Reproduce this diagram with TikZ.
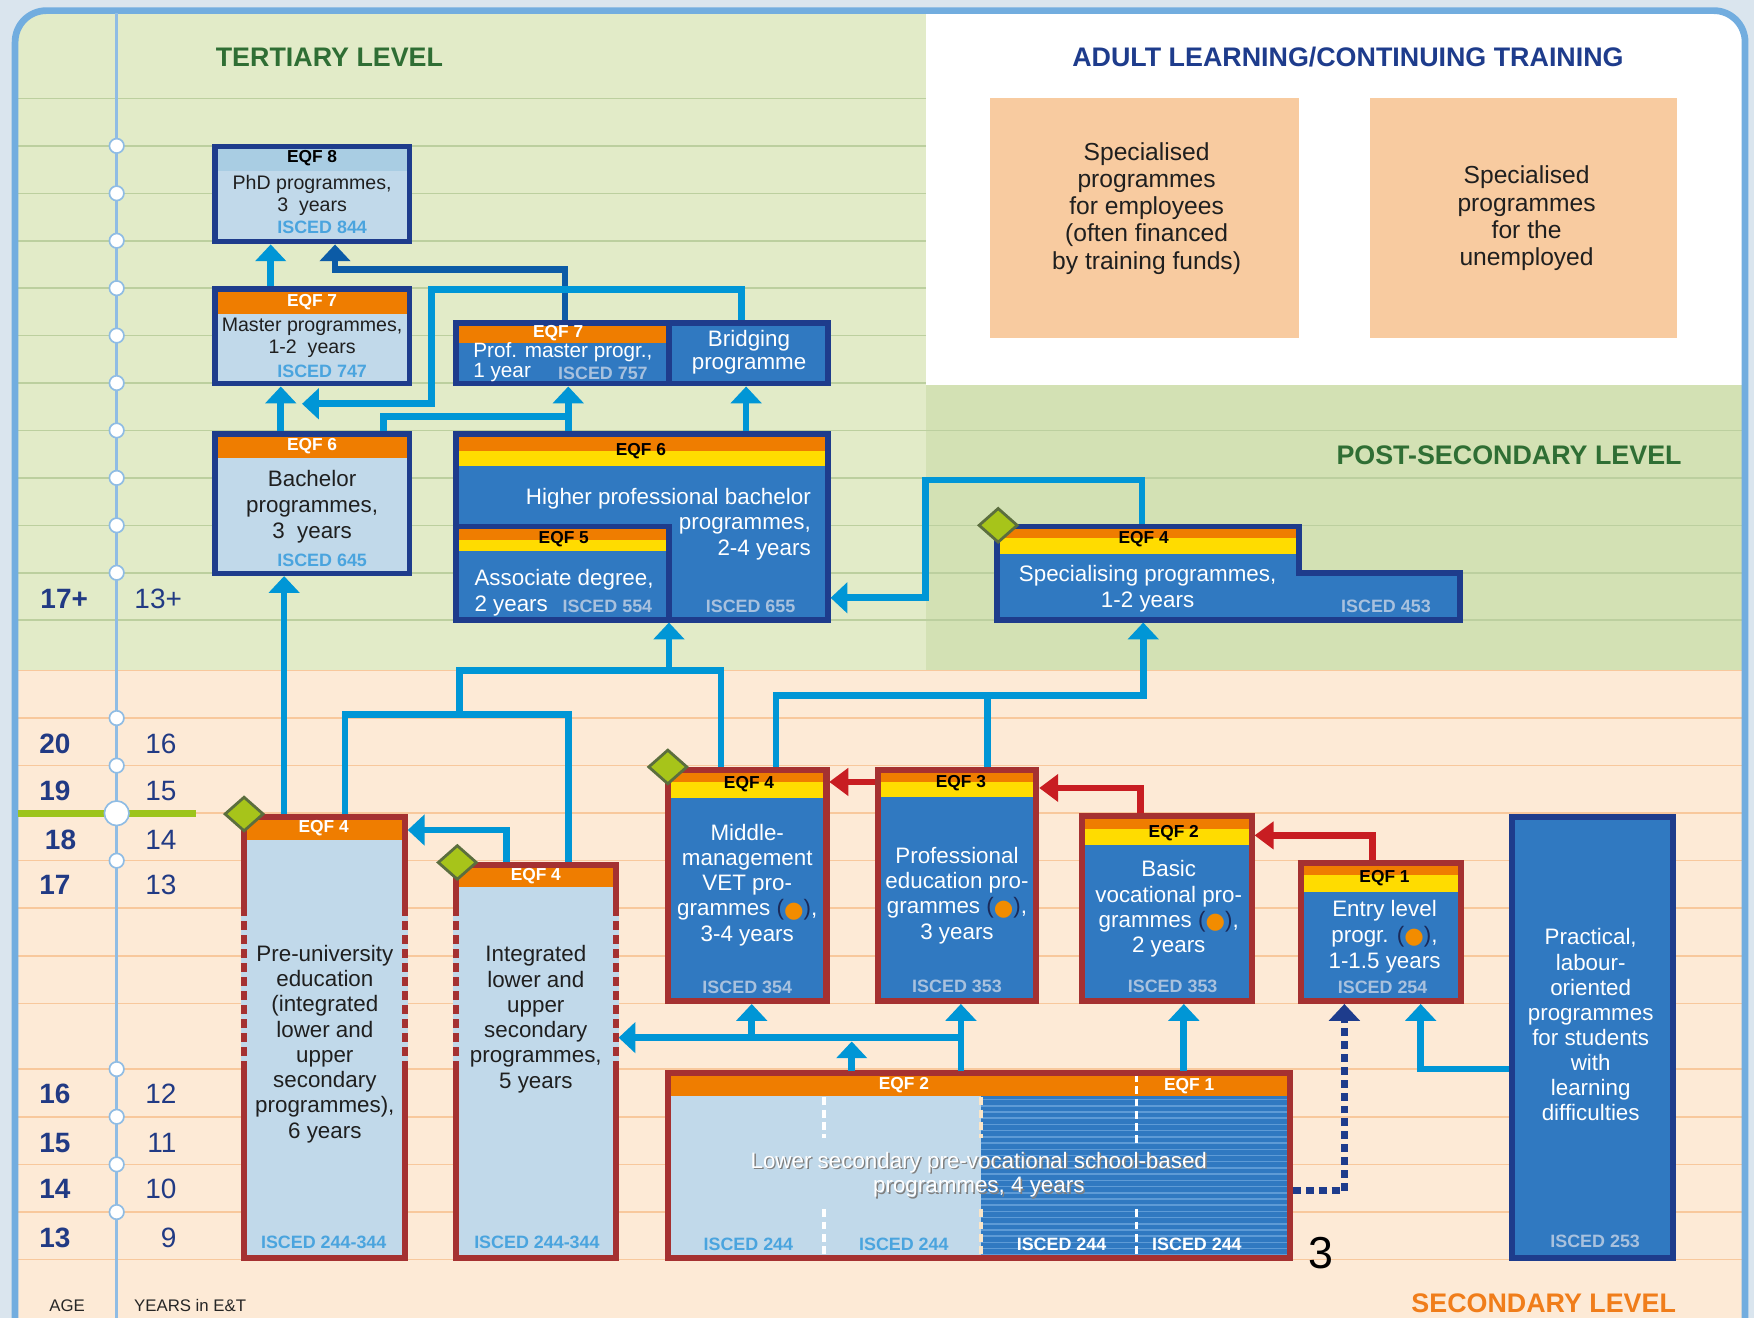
\documentclass[tikz,border=0pt]{standalone}
\usepackage{fontspec}
\usepackage{graphicx}
\setmainfont{Liberation Sans}
\newfontfamily\symfont{DejaVu Sans}
\usetikzlibrary{arrows.meta,fit,calc}

\definecolor{outerbg}{HTML}{DAE5EE}
\definecolor{framec}{HTML}{72ADDF}
\definecolor{terbg}{HTML}{E2EBC8}
\definecolor{postbg}{HTML}{D3E1B4}
\definecolor{secbg}{HTML}{FDEAD6}
\definecolor{terline}{HTML}{BCCF9F}
\definecolor{secline}{HTML}{F8C89C}
\definecolor{timec}{HTML}{8FBCE4}
\definecolor{barg}{HTML}{9DC41C}
\definecolor{navyc}{HTML}{1E3C8C}
\definecolor{agec}{HTML}{213A84}
\definecolor{redb}{HTML}{A53131}
\definecolor{orh}{HTML}{EF7D00}
\definecolor{yeh}{HTML}{FFDC00}
\definecolor{dkb}{HTML}{3079C1}
\definecolor{ltb}{HTML}{C1D9EA}
\definecolor{hdb}{HTML}{A9CDE3}
\definecolor{arrb}{HTML}{0096D6}
\definecolor{arrd}{HTML}{0C5BA6}
\definecolor{arrr}{HTML}{C81D22}
\definecolor{iscl}{HTML}{4AA4DE}
\definecolor{iscd}{HTML}{A8C1DE}
\definecolor{adultc}{HTML}{F8CBA0}
\definecolor{dgreen}{HTML}{2F6E34}
\definecolor{secor}{HTML}{F07D1A}
\definecolor{diag}{HTML}{A7C41A}
\definecolor{diab}{HTML}{5B6E3E}
\definecolor{dotor}{HTML}{F28C00}
\definecolor{odpar}{HTML}{1A2A5A}
\definecolor{stripe}{HTML}{5E9BD6}
\definecolor{cream}{HTML}{FBE6C8}

\newcommand\od{{\color{odpar}(}{\symfont\color{dotor}\raisebox{-0.05em}{\scalebox{1.0}{●}}}{\color{odpar})}}
\newcommand\mkbox[5]{\coordinate (#1-a) at (#2,#3); \coordinate (#1-b) at (#4,#5);
  \node[fit=(#1-a)(#1-b), inner sep=0pt, outer sep=2.5pt] (#1) {};}
\newcommand\dia[2]{\filldraw[fill=diag, draw=diab, line width=2.5pt] (#1-17,#2) -- (#1,#2-15) -- (#1+17,#2) -- (#1,#2+15) -- cycle;}

\tikzset{
 ar/.style={draw=arrb, line width=6pt, -{Triangle[width=27pt,length=15pt]}},
 ln/.style={draw=arrb, line width=6pt},
 ard/.style={draw=arrd, line width=6pt, -{Triangle[width=27pt,length=15pt]}},
 arn/.style={draw=navyc, line width=6pt, dash pattern=on 7pt off 4.5pt, -{Triangle[width=27pt,length=15pt]}},
 arr/.style={draw=arrr, line width=6pt, -{Triangle[width=24pt,length=17pt]}},
 nb/.style={draw=navyc, line width=5pt},
 rb/.style={draw=redb, line width=5.5pt},
 hw/.style={inner sep=0pt, font=\bfseries\fontsize{15.5}{15.5}\selectfont, text=white},
 hk/.style={inner sep=0pt, font=\bfseries\fontsize{15.5}{15.5}\selectfont, text=black},
 il/.style={inner sep=0pt, font=\bfseries\fontsize{16}{16}\selectfont, text=iscl},
 idk/.style={inner sep=0pt, font=\bfseries\fontsize{16}{16}\selectfont, text=iscd},
 iwh/.style={inner sep=0pt, font=\bfseries\fontsize{16}{16}\selectfont, text=white},
 tk/.style={inner sep=0pt, align=center, font=\fontsize{17.5}{19.6}\selectfont, text=black!88},
 tw/.style={inner sep=0pt, align=center, font=\fontsize{20}{22.6}\selectfont, text=white},
 tb/.style={inner sep=0pt, align=center, font=\fontsize{20}{22.6}\selectfont, text=black!88},
 ta/.style={inner sep=0pt, align=center, font=\fontsize{22}{24.3}\selectfont, text=black!88},
 ttl/.style={inner sep=0pt, font=\bfseries\fontsize{24}{24}\selectfont},
 agel/.style={inner sep=0pt, font=\bfseries\fontsize{25}{25}\selectfont, text=agec, anchor=west},
 ager/.style={inner sep=0pt, font=\fontsize{25}{25}\selectfont, text=agec, anchor=east},
}

\begin{document}
\begin{tikzpicture}[x=1pt,y=-1pt]
\useasboundingbox (0,0) rectangle (1568,1178);
\fill[outerbg] (0,0) rectangle (1568,1178);
% ---------- regions ----------
\begin{scope}
\clip[rounded corners=28pt] (13.5,9.5) rectangle (1560,1260);
\fill[terbg] (0,0) rectangle (828,598.5);
\fill[white] (828,0) rectangle (1568,344.5);
\fill[postbg] (828,344.5) rectangle (1568,598.5);
\fill[secbg] (0,598.5) rectangle (1568,1260);
\foreach \yy in {88,130.4,...,555} \draw[terline, line width=1.4pt] (0,\yy) -- (828,\yy);
\foreach \yy in {384.8,427.2,469.6,512,554.4} \draw[terline, line width=1.4pt] (828,\yy) -- (1568,\yy);
\foreach \yy in {599.4,641.9,...,897.5} \draw[secline, line width=1.4pt] (0,\yy) -- (1568,\yy);
\foreach \yy in {955.7,998.3,...,1127} \draw[secline, line width=1.4pt] (0,\yy) -- (1568,\yy);
\end{scope}
\draw[framec, line width=6pt, rounded corners=28pt] (13.5,9.5) rectangle (1560,1260);
% ---------- time line ----------
\draw[timec, line width=2.5pt] (104.3,12) -- (104.3,1178);
\draw[barg, line width=6.5pt] (16.5,727) -- (175,727);
\foreach \yy in {130.4,172.8,...,513,641.9,684.4,769.4,955.7,998.3,1040.9,1083.5}
  \filldraw[fill=white, draw=timec, line width=1.5pt] (104.3,\yy) circle (6.5pt);
\filldraw[fill=white, draw=timec, line width=1.5pt] (104.3,727) circle (11pt);
\node[agel] (a17p) at (36,535) {17+};
\node[ager, anchor=west] (y13p) at (120,535) {13+};
\node[agel] (a20) at (35,664.6) {20};
\node[agel] (a19) at (35,707) {19};
\node[agel] (a18) at (40,751) {18};
\node[agel] (a17) at (35,790.7) {17};
\node[agel] (a16) at (35,978) {16};
\node[agel] (a15) at (35,1022) {15};
\node[agel] (a14) at (35,1062.6) {14};
\node[agel] (a13) at (35,1107) {13};
\node[ager] (y16) at (158,664.6) {16};
\node[ager] (y15) at (158,707) {15};
\node[ager] (y14) at (158,751) {14};
\node[ager] (y13) at (158,790.7) {13};
\node[ager] (y12) at (158,978) {12};
\node[ager] (y11) at (158,1022) {11};
\node[ager] (y10) at (158,1062.6) {10};
\node[ager] (y9) at (158,1107) {9};
\node[inner sep=0pt, font=\fontsize{15}{15}\selectfont, text=black!85] (agelab) at (60,1167) {AGE};
\node[inner sep=0pt, font=\fontsize{15}{15}\selectfont, text=black!85] (yrlab) at (170,1167) {YEARS in E\&T};
% ---------- titles ----------
\node[ttl, text=dgreen] (tt1) at (294.5,50.8) {TERTIARY LEVEL};
\node[ttl, text=navyc] (tt2) at (1205,50.8) {ADULT LEARNING/CONTINUING TRAINING};
\node[ttl, text=dgreen] (tt3) at (1349,407) {POST-SECONDARY LEVEL};
\node[ttl, text=secor] (tt4) at (1380,1165) {SECONDARY LEVEL};
% ---------- adult learning ----------
\mkbox{ada}{885.4}{87.3}{1161.4}{302}
\fill[adultc] (ada-a) rectangle (ada-b);
\node[ta] (ada-t) at (1025,186.2) {Specialised\\programmes\\for employees\\(often financed\\by training funds)};
\mkbox{adb}{1224.7}{87.3}{1499.3}{302}
\fill[adultc] (adb-a) rectangle (adb-b);
\node[ta] (adb-t) at (1364.7,195.2) {Specialised\\programmes\\for the\\unemployed};
% ---------- tertiary boxes ----------
\mkbox{phd}{192}{131}{366}{216}
\fill[ltb] (phd-a) rectangle (phd-b);
\fill[hdb] (192,131) rectangle (366,152.5);
\draw[nb] (phd-a) rectangle (phd-b);
\node[hk] (phd-h) at (279,141.5) {EQF 8};
\node[tk] (phd-t) at (279,174.5) {PhD programmes,\\3\ \ years};
\node[il] (phd-i) at (288,203.5) {ISCED 844};

\mkbox{mas}{192}{258.5}{366}{343}
\fill[ltb] (mas-a) rectangle (mas-b);
\fill[orh] (192,258.5) rectangle (366,280.3);
\draw[nb] (mas-a) rectangle (mas-b);
\node[hw] (mas-h) at (279,270.5) {EQF 7};
\node[tk] (mas-t) at (279,302.2) {Master programmes,\\1-2\ \ years};
\node[il] (mas-i) at (288,332.3) {ISCED 747};

\mkbox{bach}{192}{388}{366}{512.5}
\fill[ltb] (bach-a) rectangle (bach-b);
\fill[orh] (192,388) rectangle (366,409.4);
\draw[nb] (bach-a) rectangle (bach-b);
\node[hw] (bach-h) at (279,399) {EQF 6};
\node[tb, font=\fontsize{20}{23}\selectfont] (bach-t) at (279,453) {Bachelor\\programmes,\\3\ \ years};
\node[il] (bach-i) at (288,500.5) {ISCED 645};

\mkbox{pmas}{407.5}{288.5}{598}{343}
\mkbox{brid}{598}{288.5}{740}{343}
\fill[dkb] (407.5,288.5) rectangle (740,343);
\fill[orh] (407.5,288.5) rectangle (598,306.7);
\draw[nb] (407.5,288.5) rectangle (740,343) (598,288.5) -- (598,343);
\node[hw] (pmas-h) at (499,298) {EQF 7};
\node[tw, align=left, anchor=west, font=\fontsize{18.5}{17.5}\selectfont] (pmas-t) at (423,323.6) {Prof. master progr.,\\1 year};
\node[idk] (pmas-i) at (539,333.4) {ISCED 757};
\node[tw, font=\fontsize{20}{20.7}\selectfont] (brid-t) at (669.6,315.2) {Bridging\\programme};

\mkbox{hpb}{407.5}{388}{740}{554}
\mkbox{assoc}{407.5}{470.5}{598}{554}
\fill[dkb] (hpb-a) rectangle (hpb-b);
\fill[orh] (407.5,388) rectangle (740,403.4);
\fill[yeh] (407.5,403.4) rectangle (740,417);
\fill[orh] (407.5,470.5) rectangle (598,482.4);
\fill[yeh] (407.5,482.4) rectangle (598,493);
\draw[nb] (hpb-a) rectangle (hpb-b) (407.5,470.5) -- (598,470.5) -- (598,554);
\node[hk] (hpb-h) at (573,403.4) {EQF 6};
\node[tw, align=right, anchor=east] (hpb-t) at (725,468.5) {Higher professional bachelor\\programmes,\\2-4 years};
\node[idk] (hpb-i) at (671,542) {ISCED 655};
\node[hk] (assoc-h) at (504,482.4) {EQF 5};
\node[tw, align=left, anchor=west] (assoc-t) at (424,529.8) {Associate degree,\\2 years};
\node[idk] (assoc-i) at (543,542) {ISCED 554};

% ---------- post-secondary ----------
\mkbox{spec}{891}{470.5}{1305}{554}
\fill[dkb] (891,470.5) -- (1161,470.5) -- (1161,512) -- (1305,512) -- (1305,554) -- (891,554) -- cycle;
\fill[orh] (891,470.5) rectangle (1161,481);
\fill[yeh] (891,481) rectangle (1161,494.8);
\draw[nb] (891,470.5) -- (1161,470.5) -- (1161,512) -- (1305,512) -- (1305,554) -- (891,554) -- cycle;
\node[hk] (spec-h) at (1022.4,482.4) {EQF 4};
\node[tw] (spec-t) at (1025.9,526.4) {Specialising programmes,\\1-2 years};
\node[idk] (spec-i) at (1239,542) {ISCED 453};

% ---------- secondary ----------
\mkbox{preu}{218.5}{730.5}{362}{1124.5}
\fill[ltb] (preu-a) rectangle (preu-b);
\fill[orh] (218.5,730.5) rectangle (362,750.5);
\draw[rb] (preu-a) rectangle (preu-b);
\draw[ltb, line width=5.5pt] (218.5,811) -- (218.5,955.7) (362,811) -- (362,955.7);
\draw[redb, line width=5.5pt, dash pattern=on 8pt off 4.5pt] (218.5,811) -- (218.5,955.7) (362,811) -- (362,955.7);
\node[hw] (preu-h) at (289.4,740.5) {EQF 4};
\node[tb] (preu-t) at (290.4,933.2) {Pre-university\\education\\(integrated\\lower and\\upper\\secondary\\programmes),\\6 years};
\node[il] (preu-i) at (289.4,1110.3) {ISCED 244-344};

\mkbox{integ}{408}{773}{550.5}{1124.5}
\fill[ltb] (integ-a) rectangle (integ-b);
\fill[orh] (408,773) rectangle (550.5,792.6);
\draw[rb] (integ-a) rectangle (integ-b);
\draw[ltb, line width=5.5pt] (408,811) -- (408,955.7) (550.5,811) -- (550.5,955.7);
\draw[redb, line width=5.5pt, dash pattern=on 8pt off 4.5pt] (408,811) -- (408,955.7) (550.5,811) -- (550.5,955.7);
\node[hw] (integ-h) at (479,782.8) {EQF 4};
\node[tb] (integ-t) at (479,911.1) {Integrated\\lower and\\upper\\secondary\\programmes,\\5 years};
\node[il] (integ-i) at (480,1110.3) {ISCED 244-344};

\mkbox{midm}{597}{688.5}{738.8}{895}
\fill[dkb] (midm-a) rectangle (midm-b);
\fill[orh] (597,688.5) rectangle (738.8,699.5);
\fill[yeh] (597,699.5) rectangle (738.8,713.8);
\draw[rb] (midm-a) rectangle (midm-b);
\node[hk] (midm-h) at (669.6,701.4) {EQF 4};
\node[tw] (midm-t) at (668,791) {Middle-\\management\\VET pro-\\grammes \od,\\3-4 years};
\node[idk] (midm-i) at (668,882.6) {ISCED 354};

\mkbox{prof}{785}{688.5}{926.5}{895}
\fill[dkb] (prof-a) rectangle (prof-b);
\fill[orh] (785,688.5) rectangle (926.5,698.8);
\fill[yeh] (785,698.8) rectangle (926.5,712.7);
\draw[rb] (prof-a) rectangle (prof-b);
\node[hk] (prof-h) at (859,700) {EQF 3};
\node[tw] (prof-t) at (855.5,800.5) {Professional\\education pro-\\grammes \od,\\3 years};
\node[idk] (prof-i) at (855.5,881.8) {ISCED 353};

\mkbox{basic}{967.5}{729.5}{1119}{895}
\fill[dkb] (basic-a) rectangle (basic-b);
\fill[orh] (967.5,729.5) rectangle (1119,741);
\fill[yeh] (967.5,741) rectangle (1119,755);
\draw[rb] (basic-a) rectangle (basic-b);
\node[hk] (basic-h) at (1049.3,745) {EQF 2};
\node[tw] (basic-t) at (1044.8,812.6) {Basic\\vocational pro-\\grammes \od,\\2 years};
\node[idk] (basic-i) at (1048.3,881.8) {ISCED 353};

\mkbox{entry}{1163}{771.5}{1306}{895}
\fill[dkb] (entry-a) rectangle (entry-b);
\fill[orh] (1163,771.5) rectangle (1306,782);
\fill[yeh] (1163,782) rectangle (1306,797);
\draw[rb] (entry-a) rectangle (entry-b);
\node[hk] (entry-h) at (1237.7,785) {EQF 1};
\node[tw, font=\fontsize{20}{23.2}\selectfont] (entry-t) at (1237.7,837.5) {Entry level\\progr. \od,\\1-1.5 years};
\node[idk] (entry-i) at (1236,882.6) {ISCED 254};

\mkbox{prac}{1351.5}{730.5}{1495.5}{1124.5}
\fill[dkb] (prac-a) rectangle (prac-b);
\draw[nb] (prac-a) rectangle (prac-b);
\node[tw, font=\fontsize{20}{22.4}\selectfont] (prac-t) at (1422,916) {Practical,\\labour-\\oriented\\programmes\\for students\\with\\learning\\difficulties};
\node[idk] (prac-i) at (1426,1110) {ISCED 253};

\mkbox{lows}{597}{959.5}{1153.5}{1124.5}
\fill[ltb] (597,959.5) rectangle (876.7,1124.5);
\fill[dkb] (876.7,959.5) rectangle (1153.5,1124.5);
\foreach \yy in {983,988.55,...,1122} \draw[stripe, line width=1.4pt] (876.7,\yy) -- (1153.5,\yy);
\fill[orh] (597,959.5) rectangle (1153.5,979.5);
\draw[white, line width=3.5pt, dash pattern=on 7pt off 4pt] (736.8,981) -- (736.8,1017) (736.8,1081) -- (736.8,1124);
\draw[cream, line width=3.5pt, dash pattern=on 7pt off 4pt] (876.7,981) -- (876.7,1017) (876.7,1081) -- (876.7,1124);
\draw[white, line width=3.5pt, dash pattern=on 7pt off 4pt] (1016,960) -- (1016,1024) (1016,1081) -- (1016,1124);
\draw[rb] (lows-a) rectangle (lows-b);
\node[hw] (lows-h1) at (808,970) {EQF 2};
\node[hw] (lows-h2) at (1063,971) {EQF 1};
\node[tw, font=\fontsize{20}{22}\selectfont, text=black!50] (lows-s) at (876.3,1051.3) {Lower secondary pre-vocational school-based\\programmes, 4 years};
\node[tw, font=\fontsize{20}{22}\selectfont] (lows-t) at (875,1050) {Lower secondary pre-vocational school-based\\programmes, 4 years};
\node[il] (lows-i1) at (669,1112) {ISCED 244};
\node[il] (lows-i2) at (808,1112) {ISCED 244};
\node[iwh] (lows-i3) at (949,1112) {ISCED 244};
\node[iwh] (lows-i4) at (1070,1112) {ISCED 244};
\node[inner sep=0pt, font=\fontsize{40}{40}\selectfont] (pg) at (1181,1120) {3};

% ---------- connectors ----------
\coordinate (xa) at (242,0);
\draw[ar] (xa |- mas.north) -- (xa |- phd.south);
\coordinate (x2) at (505,0); \coordinate (k2) at (299.5,241);
\draw[ard] (x2 |- pmas.north) |- (k2) -- (k2 |- phd.south);
\coordinate (x3) at (663,0); \coordinate (k3a) at (386,258.5); \coordinate (k3b) at (386,361); \coordinate (k3e) at (270,361);
\draw[ar] (x3 |- brid.north) |- (k3a) -- (k3b) -- (k3e);
\coordinate (x4) at (251,0);
\draw[ar] (x4 |- bach.north) -- (x4 |- mas.south);
\coordinate (k5a) at (343,372.5); \coordinate (k5b) at (508,372.5);
\draw[ar] (k5a |- bach.north) -- (k5a) -- (k5b) -- (k5b |- pmas.south);
\draw[ln] (k5b |- hpb.north) -- (k5b);
\coordinate (x6) at (667,0);
\draw[ar] (x6 |- hpb.north) -- (x6 |- brid.south);
\coordinate (x7) at (254,0);
\draw[ar] (x7 |- preu.north) -- (x7 |- bach.south);
\coordinate (k8a) at (1021,429); \coordinate (k8b) at (827.5,429); \coordinate (k8c) at (827.5,534.4);
\draw[ar] (k8a |- spec.north) -- (k8a) -- (k8b) -- (k8c) -- (k8c -| hpb.east);
\coordinate (k9a) at (308.5,639); \coordinate (k9b) at (508,639);
\draw[ln] (k9a |- preu.north) -- (k9a) -- (k9b) -- (k9b |- integ.north);
\coordinate (k10a) at (411,639); \coordinate (k10b) at (411,599.4); \coordinate (k10c) at (644.6,599.4); \coordinate (k10d) at (598,599.4);
\draw[ln] (k10a) -- (k10b) -- (k10c) -- (k10c |- midm.north);
\draw[ar] (k10d) -- (k10d |- assoc.south);
\coordinate (k11a) at (693.7,622); \coordinate (k11b) at (1022,622); \coordinate (k11c) at (883,622);
\draw[ar] (k11a |- midm.north) -- (k11a) -- (k11b) -- (k11b |- spec.south);
\draw[ln] (k11c |- prof.north) -- (k11c);
\coordinate (k12a) at (453,742);
\draw[ar] (k12a |- integ.north) -- (k12a) -- (k12a -| preu.east);
\coordinate (k13a) at (859,927.6); \coordinate (k13m) at (672,927.6); \coordinate (k13c) at (761.4,931);
\draw[ar] (k13a |- lows.north) -- (k13a |- prof.south);
\draw[ar] (k13a) -- (k13a -| integ.east);
\draw[ar] (k13m) -- (k13m |- midm.south);
\draw[ar] (k13c |- lows.north) -- (k13c);
\coordinate (x14) at (1058.3,0);
\draw[ar] (x14 |- lows.north) -- (x14 |- basic.south);
\coordinate (k15a) at (1201.8,1064.5);
\draw[arn] (k15a -| lows.east) -- (k15a) -- (k15a |- entry.south);
\coordinate (k16a) at (1270,955.7);
\draw[ar] (k16a -| prac.west) -- (k16a) -- (k16a |- entry.south);
\coordinate (r1) at (0,699);
\draw[arr] (r1 -| prof.west) -- (r1 -| midm.east);
\coordinate (r2) at (1019.4,704.4);
\draw[arr] (r2 |- basic.north) -- (r2) -- (r2 -| prof.east);
\coordinate (r3) at (1226.7,746.8);
\draw[arr] (r3 |- entry.north) -- (r3) -- (r3 -| basic.east);
% ---------- diamonds ----------
\dia{892.3}{469.6}
\dia{218.2}{727.7}
\dia{408.8}{771}
\dia{597}{685.6}
\end{tikzpicture}
\end{document}
